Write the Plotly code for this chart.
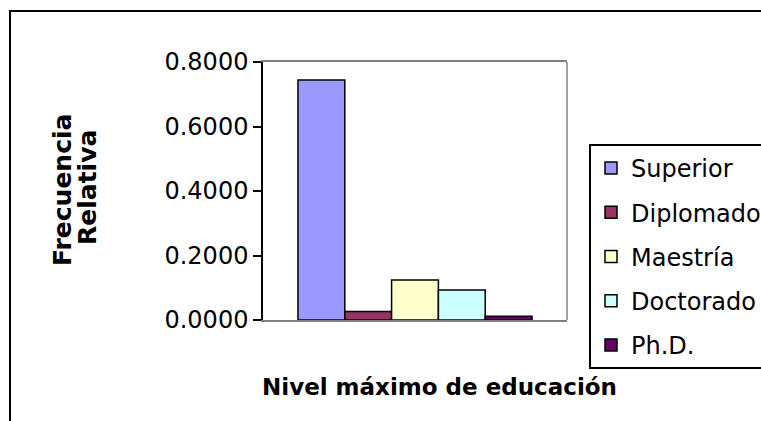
import plotly.graph_objects as go

series = ["Superior", "Diplomado", "Maestría", "Doctorado", "Ph.D."]
values = [0.744, 0.026, 0.124, 0.093, 0.012]
colors = ["#9999FF", "#993366", "#FFFFCC", "#CCFFFF", "#660066"]
category = ["Nivel máximo de educación"]
yticks = [0.0, 0.2, 0.4, 0.6, 0.8]

W, H = 761, 421
L, R, T, B = 263, 567, 62, 320
pw, ph = R - L, B - T

def px_x(p):
    return (p - L) / pw

def px_y(p):
    return (B - p) / ph

fig = go.Figure()
for name, v, c in zip(series, values, colors):
    fig.add_trace(go.Bar(
        x=category, y=[v], name=name,
        marker=dict(color=c, line=dict(color="black", width=1.5)),
        legendgroup=name,
    ))

font = "DejaVu Sans"
fig.update_layout(
    width=W, height=H,
    margin=dict(l=L, r=W - R, t=T, b=H - B, pad=0, autoexpand=False),
    paper_bgcolor="white", plot_bgcolor="white",
    barmode="group", bargap=0.23, bargroupgap=0,
    showlegend=True,
    legend=dict(
        x=px_x(589), y=px_y(144), xanchor="left", yanchor="top",
        bordercolor="black", borderwidth=2, bgcolor="white",
        font=dict(family=font, size=24, color="black"),
        traceorder="grouped", tracegroupgap=10,
        itemwidth=30,
    ),
    xaxis=dict(
        type="category", range=[-0.5, 0.5], showticklabels=False,
        showline=True, linecolor="#808080", linewidth=1.5, mirror=True,
        showgrid=False, zeroline=False, ticks="",
    ),
    yaxis=dict(
        range=[0, 0.8], tickvals=yticks, tickformat=".4f",
        showline=True, linecolor="black", linewidth=1.5,
        ticks="outside", ticklen=8, tickcolor="black", tickwidth=1.5,
        showgrid=False, zeroline=False,
        tickfont=dict(family=font, size=24, color="black"),
    ),
    shapes=[
        dict(type="line", xref="paper", yref="paper", x0=1, x1=1, y0=0, y1=1,
             line=dict(color="#808080", width=1.5), layer="below"),
        dict(type="rect", xref="paper", yref="paper",
             x0=px_x(10), x1=px_x(775), y0=px_y(11), y1=px_y(440),
             line=dict(color="black", width=2), layer="below"),
    ],
    annotations=[
        dict(text="Nivel máximo de educación", xref="paper", yref="paper",
             x=px_x(439), y=px_y(387), xanchor="center", yanchor="middle",
             showarrow=False, font=dict(family=font, size=23, color="black", weight="bold")),
        dict(text="Frecuencia", xref="paper", yref="paper",
             x=px_x(62), y=px_y(190), xanchor="center", yanchor="middle",
             textangle=-90, showarrow=False,
             font=dict(family=font, size=25, color="black", weight="bold")),
        dict(text="Relativa", xref="paper", yref="paper",
             x=px_x(87), y=px_y(188), xanchor="center", yanchor="middle",
             textangle=-90, showarrow=False,
             font=dict(family=font, size=25, color="black", weight="bold")),
    ],
)

fig.write_html(
    "out.html",
    config={"displayModeBar": False},
    post_script="document.body.style.margin='0';document.body.style.overflow='hidden';",
)
